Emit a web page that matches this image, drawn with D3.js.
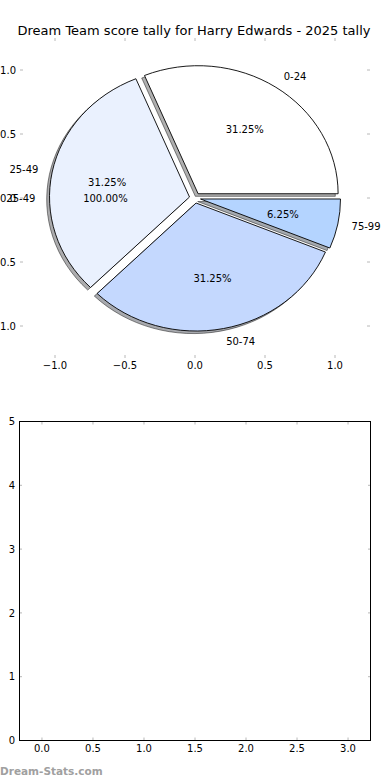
<!DOCTYPE html>
<html>
<head>
<meta charset="utf-8">
<script src="https://cdn.jsdelivr.net/npm/d3@7"></script>
<style>
  html, body { margin: 0; padding: 0; background: #fff; }
  svg { display: block; }
  text { font-family: "DejaVu Sans", sans-serif; fill: #000; }
</style>
</head>
<body>
<svg id="chart" width="390" height="780"></svg>
<script>
// ---- data ----
const title = "Dream Team score tally for Harry Edwards - 2025 tally";
const categories = ["0-24", "25-49", "50-74", "75-99"];
const values = [31.25, 31.25, 31.25, 6.25];
const colors = ["#ffffff", "#eaf1fe", "#c4d8fe", "#b4d4ff"];
const explode = [0.04, 0.04, 0.04, 0.04];
// second (hidden) pie: single wedge, only its texts show
const overlayCategories = ["25-49"];
const overlayValues = [100];
const overlayExplode = [0.04];
const pieTicks = [-1.0, -0.5, 0.0, 0.5, 1.0];
const barXTicks = [0.0, 0.5, 1.0, 1.5, 2.0, 2.5, 3.0];
const barYTicks = [0, 1, 2, 3, 4, 5];
const watermark = "Dream-Stats.com";

const svg = d3.select("#chart");
const fmt = d => d3.format(".1f")(d).replace("-", "\u2212");
const tickColor = "#b8b8b8";

// ---- top: pie ----
const x = d3.scaleLinear().domain([-1.25, 1.25]).range([20, 370]);
const y = d3.scaleLinear().domain([-1.25, 1.25]).range([358, 38]);
const sx = x(1) - x(0), sy = y(0) - y(1);

svg.append("text").attr("x", 194).attr("y", 34.5).attr("text-anchor", "middle")
  .style("font-size", "13px").text(title);

// ticks (no spines)
const tl = 3;
pieTicks.forEach(t => {
  svg.append("line").attr("x1", x(t)).attr("x2", x(t)).attr("y1", 38).attr("y2", 38 + tl).attr("stroke", tickColor);
  svg.append("line").attr("x1", x(t)).attr("x2", x(t)).attr("y1", 358).attr("y2", 358 - tl).attr("stroke", tickColor);
  svg.append("line").attr("y1", y(t)).attr("y2", y(t)).attr("x1", 20).attr("x2", 20 + tl).attr("stroke", tickColor);
  svg.append("line").attr("y1", y(t)).attr("y2", y(t)).attr("x1", 370).attr("x2", 370 - tl).attr("stroke", tickColor);
  svg.append("text").attr("x", x(t)).attr("y", 369).attr("text-anchor", "middle").style("font-size", "10px").text(fmt(t));
  svg.append("text").attr("x", 16).attr("y", y(t) + 3.6).attr("text-anchor", "end").style("font-size", "10px").text(fmt(t));
});

const pie = d3.pie().sort(null).value(d => d)
  .startAngle(Math.PI / 2).endAngle(Math.PI / 2 - 2 * Math.PI);
const arcs = pie(values);
const arc = d3.arc().innerRadius(0).outerRadius(1);
// matplotlib angle (ccw from 3 o'clock) of the wedge middle
const mid = d => Math.PI / 2 - (d.startAngle + d.endAngle) / 2;

const shadowG = svg.append("g");
const wedgeG = svg.append("g");
arcs.forEach((d, i) => {
  const t = mid(d);
  const cx = explode[i] * Math.cos(t), cy = explode[i] * Math.sin(t);
  const c = d3.rgb(colors[i]);
  shadowG.append("path")
    .attr("transform", `translate(${x(cx - 0.02)},${y(cy - 0.02)}) scale(${sx},${sy})`)
    .attr("d", arc(d))
    .attr("fill", d3.rgb(c.r * 0.3, c.g * 0.3, c.b * 0.3))
    .attr("fill-opacity", 0.45)
    .attr("stroke", "#000").attr("stroke-opacity", 0.45)
    .attr("stroke-width", 1).attr("vector-effect", "non-scaling-stroke");
  wedgeG.append("path")
    .attr("transform", `translate(${x(cx)},${y(cy)}) scale(${sx},${sy})`)
    .attr("d", arc(d))
    .attr("fill", colors[i])
    .attr("stroke", "#000").attr("stroke-width", 0.9)
    .attr("stroke-linejoin", "miter")
    .attr("vector-effect", "non-scaling-stroke");
  // labels
  const lx = cx + 1.1 * Math.cos(t), ly = cy + 1.1 * Math.sin(t);
  svg.append("text").attr("x", x(lx)).attr("y", y(ly) + 3.6)
    .attr("text-anchor", lx > 0 ? "start" : "end").style("font-size", "10px").text(categories[i]);
  const px = cx + 0.6 * Math.cos(t), py = cy + 0.6 * Math.sin(t);
  svg.append("text").attr("x", x(px)).attr("y", y(py) + 3.6)
    .attr("text-anchor", "middle").style("font-size", "10px").text(d3.format(".2f")(values[i] / d3.sum(values) * 100) + "%");
});

// overlay pie texts
pie(overlayValues).forEach((d, i) => {
  const t = Math.PI; // single full wedge starting at 0 -> middle at 180°
  const cx = overlayExplode[i] * Math.cos(t), cy = overlayExplode[i] * Math.sin(t);
  const lx = cx + 1.1 * Math.cos(t), ly = cy + 1.1 * Math.sin(t);
  svg.append("text").attr("x", x(lx)).attr("y", y(ly) + 3.6)
    .attr("text-anchor", "end").style("font-size", "10px").text(overlayCategories[i]);
  const px = cx + 0.6 * Math.cos(t), py = cy + 0.6 * Math.sin(t);
  svg.append("text").attr("x", x(px)).attr("y", y(py) + 3.6)
    .attr("text-anchor", "middle").style("font-size", "10px").text(d3.format(".2f")(overlayValues[i] / d3.sum(overlayValues) * 100) + "%");
});

// ---- bottom: empty axes ----
const bx = d3.scaleLinear().domain([-0.225, 3.225]).range([19, 371]);
const by = d3.scaleLinear().domain([0, 5]).range([740.5, 421.5]);
const bl = 3;
barXTicks.forEach(t => {
  svg.append("line").attr("x1", bx(t)).attr("x2", bx(t)).attr("y1", 421.5).attr("y2", 421.5 + bl).attr("stroke", tickColor);
  svg.append("line").attr("x1", bx(t)).attr("x2", bx(t)).attr("y1", 740.5).attr("y2", 740.5 - bl).attr("stroke", tickColor);
  svg.append("text").attr("x", bx(t)).attr("y", 752).attr("text-anchor", "middle").style("font-size", "10px").text(fmt(t));
});
barYTicks.forEach(t => {
  svg.append("line").attr("y1", by(t)).attr("y2", by(t)).attr("x1", 19).attr("x2", 19 + bl).attr("stroke", tickColor);
  svg.append("line").attr("y1", by(t)).attr("y2", by(t)).attr("x1", 371).attr("x2", 371 - bl).attr("stroke", tickColor);
  svg.append("text").attr("x", 15).attr("y", by(t) + 3.6).attr("text-anchor", "end").style("font-size", "10px").text(t);
});
svg.append("rect").attr("x", 19.5).attr("y", by(5)).attr("width", 351).attr("height", by(0) - by(5))
  .attr("fill", "none").attr("stroke", "#000").attr("stroke-width", 1);

svg.append("text").attr("x", 0).attr("y", 775).style("font-size", "10.5px").style("font-weight", "bold")
  .style("fill", "#a0a0a0").text(watermark);
</script>
</body>
</html>
